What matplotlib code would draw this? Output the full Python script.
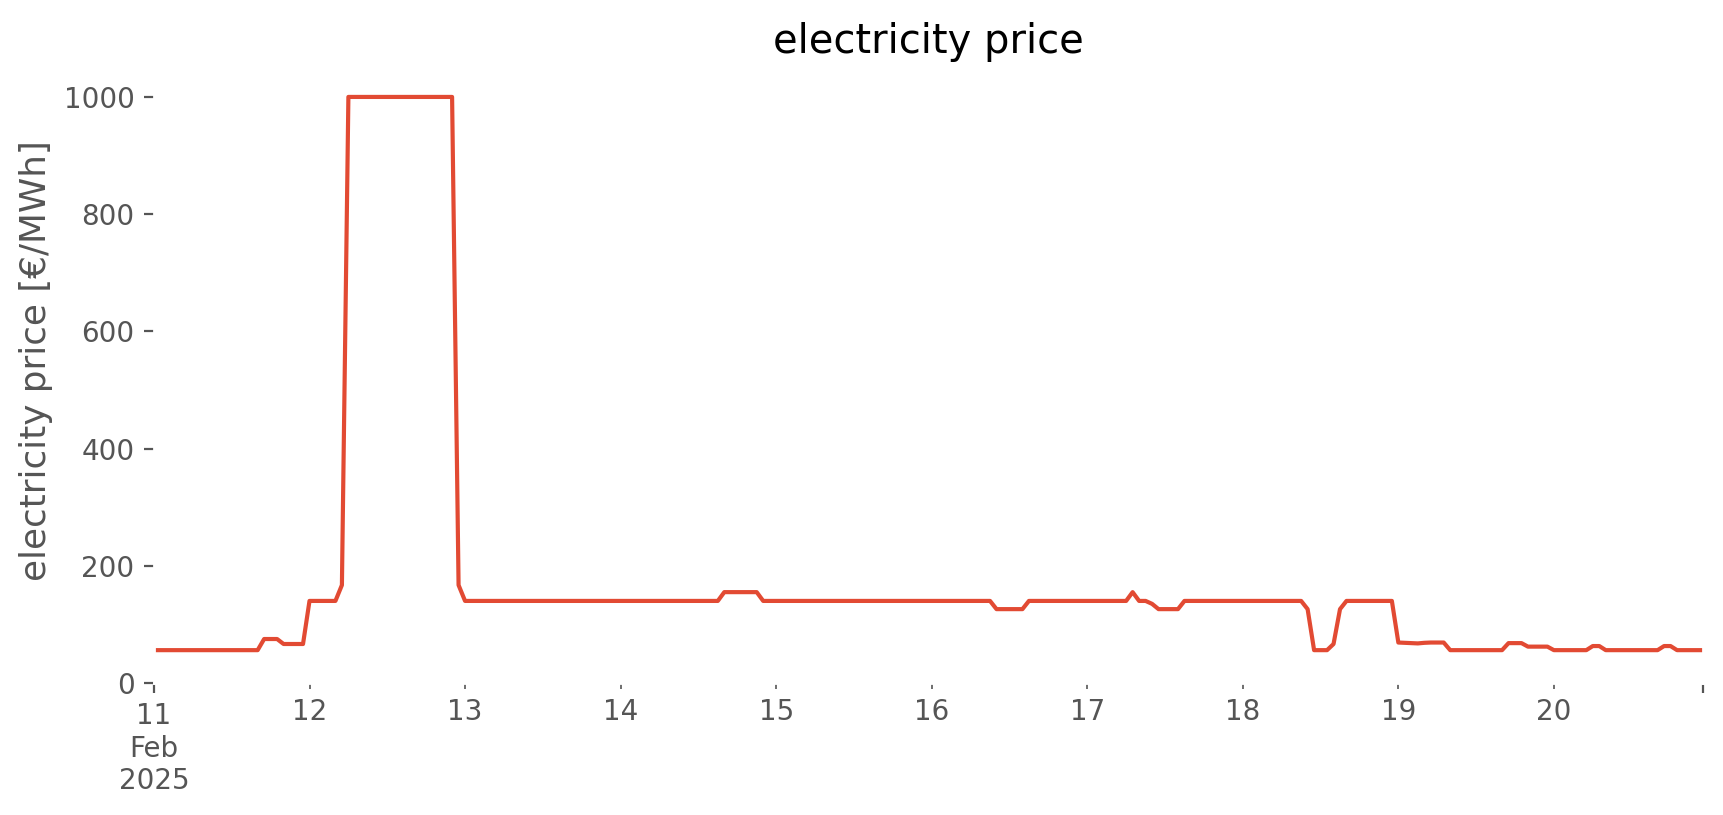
import matplotlib
matplotlib.use("Agg")
import matplotlib.pyplot as plt
import pandas as pd

# hourly electricity price, 11-20 Feb 2025, one list per day (24 values each)
start = "2025-02-11 00:00"
day11 = [56] * 17 + [75] * 3 + [66.5] * 4
day12 = [140] * 5 + [167] + [1000] * 17 + [167]
day13 = [140] * 24
day14 = [140] * 16 + [155] * 6 + [140] * 2
day15 = [140] * 24
day16 = [140] * 10 + [126] * 5 + [140] * 9
day17 = [140] * 7 + [155] + [140] * 2 + [135] + [126] * 4 + [140] * 9
day18 = [140] * 10 + [126] + [56] * 3 + [66.5] + [126] + [140] * 8
day19 = [69, 68.5, 68, 67.5, 68.5] + [69] * 3 + [56] * 9 + [68] * 3 + [62] * 4
day20 = [56] * 6 + [63] * 2 + [56] * 9 + [63] * 2 + [56] * 5

prices = day11 + day12 + day13 + day14 + day15 + day16 + day17 + day18 + day19 + day20
idx = pd.date_range(start, periods=len(prices), freq="h")
s = pd.Series(prices, index=idx)

plt.style.use("ggplot")
fig, ax = plt.subplots(figsize=(8.62, 4.075), dpi=200)
fig.patch.set_facecolor("white")
ax.set_facecolor("white")

s.plot(ax=ax, color="#E24A33")
ax.set_ylim(bottom=0)
ax.set_title("electricity price")
ax.set_ylabel("electricity price [€/MWh]", fontsize=12.9, y=0.525)
ax.set_xlabel("")

fig.subplots_adjust(left=0.0893, right=0.9878, bottom=0.162, top=0.915)
fig.savefig("out.png", dpi=200)
